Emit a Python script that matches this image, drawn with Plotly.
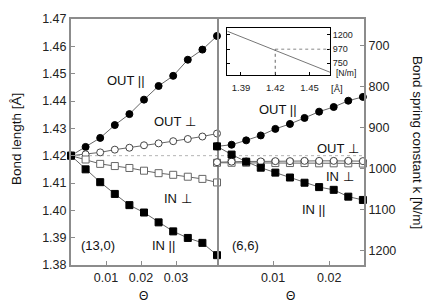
import plotly.graph_objects as go

# ---------------- data ----------------
theta_13_0 = [0.0, 0.00417, 0.00834, 0.01251, 0.01668, 0.02085, 0.02502, 0.02919, 0.03336, 0.03753, 0.0417]
out_par_13_0 = [1.4200, 1.4232, 1.4265, 1.4312, 1.4352, 1.4405, 1.4455, 1.4492, 1.4551, 1.4588, 1.4638]
out_perp_13_0 = [1.4200, 1.4205, 1.4212, 1.4222, 1.4229, 1.4238, 1.4245, 1.4253, 1.4261, 1.4270, 1.4281]
in_perp_13_0 = [1.4200, 1.4186, 1.4170, 1.4162, 1.4155, 1.4145, 1.4136, 1.4130, 1.4123, 1.4115, 1.4102]
in_par_13_0 = [1.4200, 1.4150, 1.4103, 1.4060, 1.4019, 1.3992, 1.3956, 1.3923, 1.3899, 1.3881, 1.3836]

theta_6_6 = [0.0, 0.0026, 0.0052, 0.0078, 0.0104, 0.0130, 0.0156, 0.0182, 0.0208, 0.0234, 0.0260]
out_par_6_6 = [1.4234, 1.4240, 1.4256, 1.4274, 1.4298, 1.4316, 1.4338, 1.4361, 1.4378, 1.4401, 1.4415]
out_perp_6_6 = [1.4176, 1.4178, 1.4179, 1.4179, 1.4180, 1.4180, 1.4181, 1.4181, 1.4181, 1.4181, 1.4180]
in_perp_6_6 = [1.4174, 1.4174, 1.4174, 1.4173, 1.4173, 1.4173, 1.4173, 1.4172, 1.4172, 1.4172, 1.4171]
in_par_6_6 = [1.4234, 1.4204, 1.4178, 1.4156, 1.4138, 1.4120, 1.4101, 1.4085, 1.4075, 1.4050, 1.4038]

ref_length = 1.42
ref_k = 970

inset_length = [1.378, 1.468]
inset_k = [1250, 610]

length_ticks = [1.38, 1.39, 1.40, 1.41, 1.42, 1.43, 1.44, 1.45, 1.46, 1.47]
k_ticks = [700, 800, 900, 1000, 1100, 1200]
theta_ticks_left = [0.01, 0.02, 0.03]
theta_ticks_right = [0.01, 0.02]
inset_x_ticks = [1.39, 1.42, 1.45]
inset_y_ticks = [750, 970, 1200]

# ---------------- styling helpers ----------------
W, H = 436, 305
L, R, T, B = 71, 72, 15, 40
PW, PH = W - L - R, H - T - B


def px(x):
    return (x - L) / PW


def py(y):
    return (H - B - y) / PH


FONT = "Liberation Sans, Arial, sans-serif"
FRAME = "#8c8c8c"
LINE = "#666666"

fig = go.Figure()


def add_series(x, y, xa, symbol, filled, edge):
    fig.add_trace(go.Scatter(
        x=x, y=y, xaxis=xa, yaxis="y", mode="lines+markers",
        line=dict(color=LINE, width=1),
        marker=dict(symbol=symbol, size=7,
                    color="black" if filled else "white",
                    line=dict(color=edge, width=1)),
        cliponaxis=False, showlegend=False, hoverinfo="skip"))


# left panel (13,0)
add_series(theta_13_0, out_par_13_0, "x", "circle", True, "black")
add_series(theta_13_0, out_perp_13_0, "x", "circle", False, "#444444")
add_series(theta_13_0, in_perp_13_0, "x", "square", False, "#666666")
add_series(theta_13_0, in_par_13_0, "x", "square", True, "black")
# right panel (6,6)
add_series(theta_6_6, out_par_6_6, "x2", "circle", True, "black")
add_series(theta_6_6, in_perp_6_6, "x2", "square", False, "#666666")
add_series(theta_6_6, out_perp_6_6, "x2", "circle", False, "#444444")
add_series(theta_6_6, in_par_6_6, "x2", "square", True, "black")

# empty trace so that the spring-constant axis gets its own subplot drawn
fig.add_trace(go.Scatter(x=[], y=[], xaxis="x2", yaxis="y2", showlegend=False, hoverinfo="skip"))

# inset
fig.add_trace(go.Scatter(x=inset_length, y=inset_k, xaxis="x3", yaxis="y3", mode="lines",
                         line=dict(color="#777777", width=1), showlegend=False, hoverinfo="skip"))

INSET_XR = [1.378, 1.468]
INSET_YR = [570, 1303]

shapes = [
    dict(type="line", xref="paper", yref="y", x0=0, x1=1, y0=ref_length, y1=ref_length,
         line=dict(color="#b5b5b5", width=1, dash="dot"), layer="below"),
    dict(type="line", xref="x3", yref="y3", x0=ref_length, x1=INSET_XR[1], y0=ref_k, y1=ref_k,
         line=dict(color="#888888", width=1, dash="dot")),
    dict(type="line", xref="x3", yref="y3", x0=ref_length, x1=ref_length, y0=INSET_YR[0], y1=ref_k,
         line=dict(color="#666666", width=1, dash="dot")),
]

tickfont = dict(family=FONT, size=12.5, color="#222222")
axis_common = dict(showline=True, linecolor=FRAME, linewidth=2, ticks="inside", ticklen=4,
                   tickcolor=FRAME, tickwidth=1, showgrid=False, zeroline=False, tickfont=tickfont)

split = 0.4983

fig.update_layout(
    width=W, height=H, margin=dict(l=L, r=R, t=T, b=B),
    paper_bgcolor="white", plot_bgcolor="white",
    xaxis=dict(domain=[0, split], anchor="y", range=[0, 0.0417], tickvals=theta_ticks_left,
               tickformat=".2f", mirror=True, **axis_common),
    xaxis2=dict(domain=[split, 1], anchor="y", range=[0, 0.0262], tickvals=theta_ticks_right,
                tickformat=".2f", mirror=True, **axis_common),
    yaxis=dict(domain=[0, 1], anchor="x", range=[1.38, 1.47], tickvals=length_ticks,
               tickformat=".2f", mirror=True, **axis_common),
    yaxis2=dict(domain=[0, 1], anchor="x2", overlaying="y", side="right", range=[1236, 635],
                tickvals=k_ticks, **axis_common),
    xaxis3=dict(domain=[px(227.3), px(330)], anchor="y3", range=INSET_XR, tickvals=inset_x_ticks,
                tickformat=".2f", showline=True, linecolor="black", linewidth=1, mirror=True,
                ticks="inside", ticklen=3, tickcolor="black", showgrid=False, zeroline=False,
                tickfont=dict(family=FONT, size=9.5, color="#222222"), ticklabelstandoff=4),
    yaxis3=dict(domain=[py(71.7), py(24)], anchor="x3", side="right", range=INSET_YR,
                tickvals=inset_y_ticks, showline=True, linecolor="black", linewidth=1,
                mirror="ticks", ticks="inside", ticklen=3, tickcolor="black", showgrid=False,
                zeroline=False, tickfont=dict(family=FONT, size=9, color="#222222")),
    shapes=shapes,
    showlegend=False,
)


def label(text, x, y, size=13, angle=0, xanchor="center"):
    fig.add_annotation(text=text, x=px(x), y=py(y), xref="paper", yref="paper",
                       showarrow=False, textangle=angle, xanchor=xanchor, yanchor="middle",
                       font=dict(family=FONT, size=size, color="#111111"))


label("OUT ||", 126, 78)
label("OUT ⊥", 175, 119)
label("IN ⊥", 178, 197)
label("IN ||", 163, 245)
label("(13,0)", 98, 245)
label("OUT ||", 278, 107)
label("OUT ⊥", 338, 147)
label("IN ⊥", 340, 175)
label("IN ||", 313, 209)
label("(6,6)", 245, 245)
label("Θ", 143, 297, size=12)
label("Θ", 290, 297, size=12)
label("Bond length [Å]", 16, 137, size=13.5, angle=-90)
label("Bond spring constant k [N/m]", 418, 140, size=13.5, angle=90)
label("[Å]", 337, 86, size=9.5)
label("[N/m]", 334, 69.5, size=8.5, xanchor="left")

fig.write_html("out.html", config={"displayModeBar": False},
               post_script="document.body.style.margin='0px';")
